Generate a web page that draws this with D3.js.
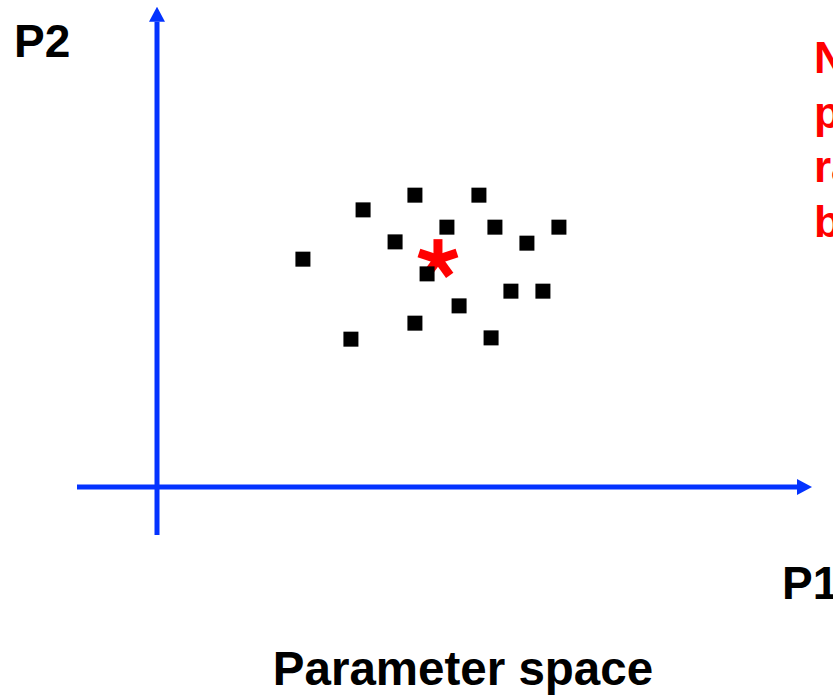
<!DOCTYPE html>
<html>
<head>
<meta charset="utf-8">
<script src="https://cdn.jsdelivr.net/npm/d3@7"></script>
<style>
  body { margin: 0; background: #fff; }
  text { font-family: "Liberation Sans", Arial, sans-serif; font-weight: bold; }
</style>
</head>
<body>
<div id="chartContainer"></div>
<script>
// sampled parameter points (P1, P2)
const p1Values = [2.28, 3.22, 4.03, 5.03, 4.53, 5.28, 6.28, 3.72, 5.78, 4.22, 5.53, 6.03, 4.72, 4.03, 3.03, 5.22];
const p2Values = [3.56, 4.33, 4.56, 4.56, 4.06, 4.06, 4.06, 3.83, 3.81, 3.33, 3.06, 3.06, 2.83, 2.56, 2.31, 2.33];
// current point
const currentPoint = [4.39, 3.56];
const noteLines = ["New", "point", "random", "based"];
const axisLabels = { x: "P1", y: "P2" };
const title = "Parameter space";

const width = 833, height = 696;
const blue = "#0433ff", red = "#ff0000";

const svg = d3.select("#chartContainer").append("svg")
    .attr("width", width)
    .attr("height", height);

const x = d3.scaleLinear().domain([0, 10]).range([157, 797]);
const y = d3.scaleLinear().domain([0, 7.5]).range([487, 7]);

const defs = svg.append("defs");
defs.append("marker")
    .attr("id", "arrow")
    .attr("markerUnits", "userSpaceOnUse")
    .attr("viewBox", "0 0 15 16")
    .attr("refX", 0)
    .attr("refY", 8)
    .attr("markerWidth", 15)
    .attr("markerHeight", 16)
    .attr("orient", "auto")
    .append("path")
    .attr("d", "M0,0L15,8L0,16Z")
    .attr("fill", blue);

// axes
svg.append("line")
    .attr("x1", x(-1.25)).attr("x2", x(10))
    .attr("y1", y(0)).attr("y2", y(0))
    .attr("stroke", blue).attr("stroke-width", 5)
    .attr("marker-end", "url(#arrow)");

svg.append("line")
    .attr("x1", x(0)).attr("x2", x(0))
    .attr("y1", y(-0.75)).attr("y2", y(7.27))
    .attr("stroke", blue).attr("stroke-width", 5)
    .attr("marker-end", "url(#arrow)");

// current point, drawn as a five spoke asterisk
const star = svg.append("g")
    .attr("transform", `translate(${x(currentPoint[0])},${y(currentPoint[1])})`);
star.selectAll("line")
    .data(d3.range(5))
    .enter().append("line")
    .attr("x1", 0).attr("y1", 0)
    .attr("x2", 0).attr("y2", -20)
    .attr("transform", d => `rotate(${d * 72})`)
    .attr("stroke", red)
    .attr("stroke-width", 9);

// samples
const pts = p1Values.map((v, i) => ({ p1: v, p2: p2Values[i] }));
svg.selectAll("rect.sample")
    .data(pts)
    .enter().append("rect")
    .attr("class", "sample")
    .attr("x", d => x(d.p1) - 7.5)
    .attr("y", d => y(d.p2) - 7.5)
    .attr("width", 15)
    .attr("height", 15)
    .attr("fill", "#000");

// labels
svg.append("text")
    .attr("x", 14).attr("y", 57)
    .attr("font-size", 46)
    .text(axisLabels.y);

svg.append("text")
    .attr("x", 782).attr("y", 599)
    .attr("font-size", 46)
    .text(axisLabels.x);

svg.append("text")
    .attr("x", 463).attr("y", 685)
    .attr("text-anchor", "middle")
    .attr("font-size", 47.5)
    .text(title);

svg.selectAll("text.note")
    .data(noteLines)
    .enter().append("text")
    .attr("class", "note")
    .attr("x", 814)
    .attr("y", (d, i) => 73 + i * 54.7)
    .attr("font-size", 44)
    .attr("fill", red)
    .text(d => d);
</script>
</body>
</html>
